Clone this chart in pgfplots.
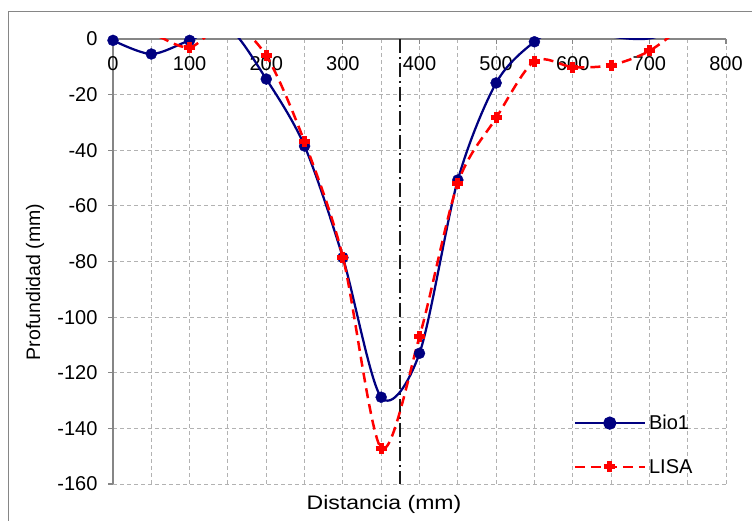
\documentclass[border=0pt]{standalone}
\usepackage{fontspec}
\setmainfont{Liberation Sans}
\usepackage{graphicx}
\usepackage{pgfplots}
\pgfplotsset{compat=1.18}
\usepackage{pgfplotstable}
\definecolor{bionavy}{RGB}{0,0,128}
\definecolor{axgray}{RGB}{134,134,134}
\definecolor{gridgray}{RGB}{178,178,178}

\pgfplotstableread{
x y
0 -0.5
50 -5.4
100 -0.5
150 4
200 -14.4
250 -38.5
300 -78.6
350 -128.8
400 -113
450 -50.7
500 -15.8
550 -1
600 6
650 1
700 0.2
750 5
}\bioone

\pgfplotstableread{
x y
0 5
50 2
100 -3
150 6
200 -6
250 -37
300 -78.4
350 -147.1
400 -107
450 -51.8
500 -28.4
550 -8
600 -10.1
650 -9.4
700 -4.3
750 6
}\lisa

\begin{document}
\begin{tikzpicture}
\useasboundingbox (0,0) rectangle (752bp,521bp);
\draw[axgray, line width=1bp] (8bp,-20bp) rectangle (770bp,509bp);
\begin{axis}[
  at={(113bp,37bp)}, anchor=south west,
  scale only axis, width=613bp, height=445bp,
  xmin=0, xmax=800, ymin=-160, ymax=0,
  xtick={0,100,...,800}, ytick={-160,-140,...,0},
  minor x tick num=1,
  xmajorgrids, ymajorgrids, xminorgrids,
  grid style={gridgray, line width=0.9bp, dash pattern=on 4bp off 3bp},
  minor grid style={gridgray, line width=0.9bp, dash pattern=on 4bp off 3bp},
  axis x line*=top, axis y line*=left,
  axis line style={axgray, line width=1.2bp, -},
  tick style={axgray, line width=1.2bp},
  tick align=inside,
  major tick length=5bp, minor tick length=0bp,
  ytick style={xshift=-5bp},
  /pgf/number format/assume math mode=true,
  tick label style={font=\fontsize{20bp}{24bp}\selectfont, text=black},
  xticklabel style={anchor=north, yshift=-14bp},
  yticklabel style={anchor=east, xshift=-12bp},
  legend cell align=left,
  legend style={draw=none, fill=none, at={(0.751,0.162)}, anchor=north west,
    font=\fontsize{20bp}{24bp}\selectfont, row sep=22bp,
    inner sep=0pt, nodes={inner sep=3bp}},
  legend image code/.code={
    \draw[#1] plot coordinates {(0bp,0bp) (35bp,0bp) (70bp,0bp)};
  },
]
% vertical reference line
\addplot[black!90, line width=2bp, dash pattern=on 14bp off 4bp on 2bp off 4bp, forget plot]
  coordinates {(375,0) (375,-160)};
% Bio1
\addplot[bionavy, line width=2.25bp, smooth, tension=0.5, forget plot] table {\bioone};
\addplot[bionavy, only marks, mark=*, mark size=5.5bp, restrict y to domain=-200:0, forget plot] table {\bioone};
% LISA
\addplot[red, line width=2.5bp, smooth, tension=0.5, dash pattern=on 10bp off 6bp, forget plot] table {\lisa};
\addplot[red, only marks, mark=+, mark size=5.5bp, mark options={solid, line width=5bp}, restrict y to domain=-200:0, forget plot] table {\lisa};

\addlegendimage{bionavy, line width=2.25bp, mark=*, mark size=5.5bp, mark repeat=2, mark phase=2}
\addlegendentry{Bio1}
\addlegendimage{red, line width=2.5bp, dash pattern=on 10bp off 6bp, mark=+, mark size=5.5bp, mark options={solid, line width=5bp}, mark repeat=2, mark phase=2}
\addlegendentry{LISA}
\end{axis}
\node[rotate=90, font=\fontsize{19.5bp}{23bp}\selectfont] at (35bp,239bp) {Profundidad (mm)};
\node[font=\fontsize{19.5bp}{23bp}\selectfont] at (384bp,17bp) {\scalebox{1.18}[1]{Distancia (mm)}};
\end{tikzpicture}
\end{document}
